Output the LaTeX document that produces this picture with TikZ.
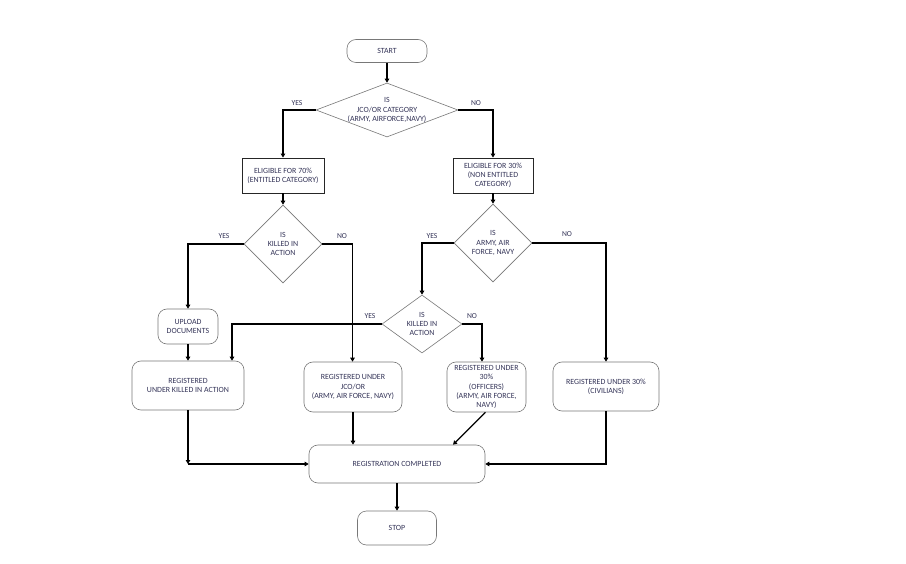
\documentclass[tikz,border=0pt]{standalone}
\usepackage{fontspec}
\setmainfont{Carlito}
\usetikzlibrary{shapes.geometric,arrows.meta}
\definecolor{tc}{RGB}{52,52,88}
\definecolor{bd}{RGB}{120,120,120}
\begin{document}
\begin{tikzpicture}[x=1pt,y=-1pt,
  txt/.style={font=\fontsize{7.9}{9.2}\selectfont, text=tc, align=center, inner sep=0pt},
  lab/.style={font=\fontsize{7.6}{8}\selectfont, text=tc, inner sep=0pt},
  rbox/.style={txt, draw=bd, line width=0.6pt, rounded corners=9pt},
  sbox/.style={txt, draw=black!85, line width=0.9pt},
  dia/.style={shape=diamond, draw=bd, line width=0.6pt, inner sep=0pt},
  arr/.style={draw=black, line width=1.3pt, -{Triangle[length=4pt,width=4.5pt]}},
  ln/.style={draw=black, line width=1.3pt}
]
\useasboundingbox[fill=white] (0,0) rectangle (906,564);
% nodes
\node[rbox, minimum width=80pt, minimum height=23pt] (start) at (387,51) {START};
\node[dia, minimum width=142pt, minimum height=54pt] (d1) at (387,110) {};
\node[txt] (d1t) at (387,110) {IS\\JCO/OR CATEGORY\\(ARMY, AIRFORCE,NAVY)};
\node[sbox, minimum width=82pt, minimum height=35pt] (b70) at (283,175.5) {ELIGIBLE FOR 70\%\\(ENTITLED CATEGORY)};
\node[sbox, minimum width=80pt, minimum height=35pt] (b30) at (493,175.5) {ELIGIBLE FOR 30\%\\(NON ENTITLED\\CATEGORY)};
\node[dia, minimum width=78pt, minimum height=78pt] (d2) at (283,244) {};
\node[txt] (d2t) at (283,244) {IS\\KILLED IN\\ACTION};
\node[dia, minimum width=78pt, minimum height=78pt] (d3) at (493,243) {};
\node[txt] (d3t) at (493,243) {IS\\ARMY, AIR\\FORCE, NAVY};
\node[dia, minimum width=80pt, minimum height=58pt] (d4) at (422,324) {};
\node[txt] (d4t) at (422,324) {IS\\KILLED IN\\ACTION};
\node[rbox, minimum width=60pt, minimum height=35pt] (up) at (188,326.5) {UPLOAD\\DOCUMENTS};
\node[rbox, minimum width=112pt, minimum height=49pt] (rk) at (188,385.5) {REGISTERED\\UNDER KILLED IN ACTION};
\node[rbox, minimum width=98pt, minimum height=50pt] (rj) at (353,387) {REGISTERED UNDER\\JCO/OR\\(ARMY, AIR FORCE, NAVY)};
\node[rbox, minimum width=79pt, minimum height=50pt] (ro) at (486.5,387) {REGISTERED UNDER\\30\%\\(OFFICERS)\\(ARMY, AIR FORCE,\\NAVY)};
\node[rbox, minimum width=106pt, minimum height=49pt] (rc) at (606,386.5) {REGISTERED UNDER 30\%\\(CIVILIANS)};
\node[rbox, minimum width=176pt, minimum height=38pt] (done) at (397,464) {REGISTRATION COMPLETED};
\node[rbox, minimum width=79pt, minimum height=34pt] (stop) at (397,528) {STOP};
% labels
\node[lab] (y1) at (297,103) {YES};
\node[lab] (n1) at (476,103) {NO};
\node[lab] (y2) at (224,236) {YES};
\node[lab] (n2) at (342,236) {NO};
\node[lab] (y3) at (432,236) {YES};
\node[lab] (n3) at (567,234) {NO};
\node[lab] (y4) at (370,316) {YES};
\node[lab] (n4) at (472,316) {NO};
% connectors
\draw[arr] (start.south) -- (d1.north);
\draw[arr] (d1.west) -| (b70.north);
\draw[arr] (d1.east) -| (b30.north);
\draw[arr] (b70.south) -- (d2.north);
\draw[arr] (b30.south) -- (d3.north);
\draw[arr] (d2.west) -| (up.north);
\draw[arr] (d2.east) -| ([xshift=-0.5pt]rj.north);
\draw[arr] (d3.west) -| (d4.north);
\draw[arr] (d3.east) -| (rc.north);
\draw[arr] (d4.west) -| ([xshift=44pt]rk.north);
\draw[arr] (d4.east) -| ([xshift=-4.5pt]ro.north);
\draw[arr] (up.south) -- (rk.north);
\coordinate (k1) at (188,464);
\draw[arr] (rk.south) -- (k1);
\draw[arr] (k1) -- (done.west);
\draw[arr] (rj.south) -- (rj.south |- done.north);
\draw[arr] ([xshift=-1pt]ro.south) -- ([xshift=56pt]done.north);
\draw[arr] (rc.south) |- (done.east);
\draw[arr] (done.south) -- (stop.north);
\end{tikzpicture}
\end{document}
